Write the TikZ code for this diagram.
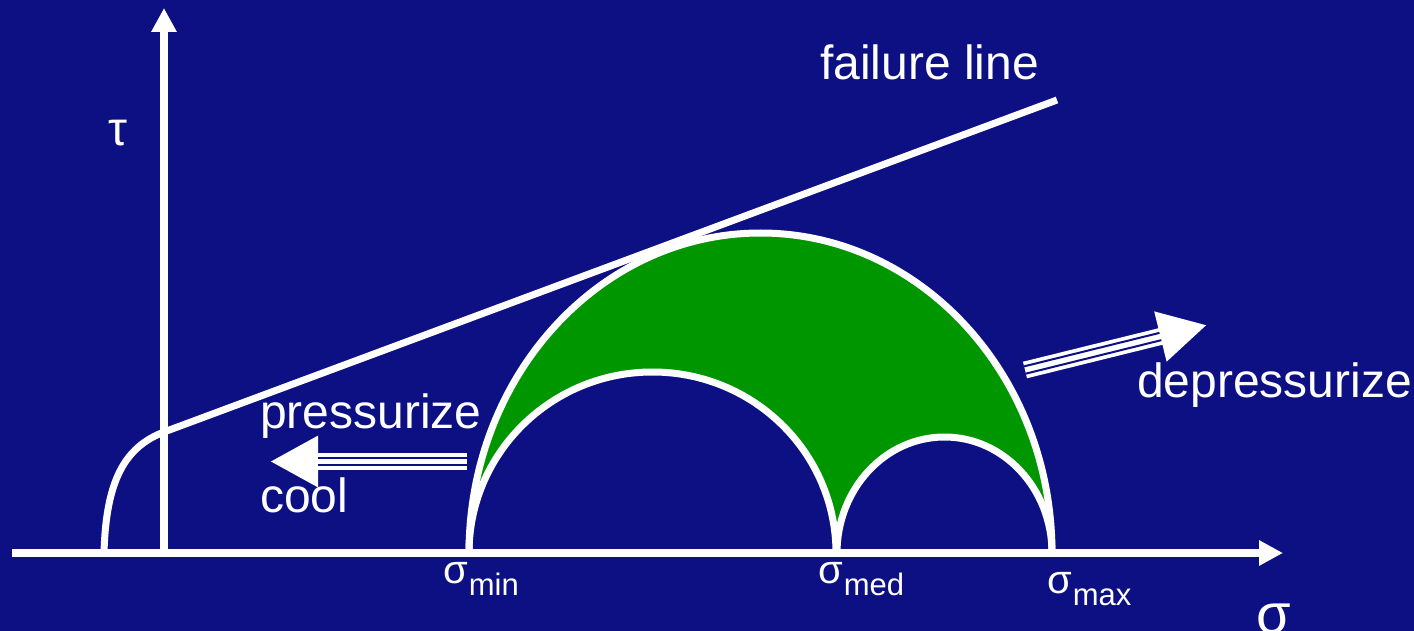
\documentclass[tikz,border=0pt]{standalone}
\usepackage{fontspec}
\setmainfont{Liberation Sans}
\usetikzlibrary{arrows.meta,calc}
\definecolor{bgblue}{RGB}{13,16,130}
\definecolor{fillgreen}{RGB}{0,150,0}
\newcommand{\sgsub}[1]{\kern1pt\raisebox{-12pt}{\fontsize{31}{31}\selectfont #1}}
\begin{document}
\begin{tikzpicture}[x=1pt,y=-1pt,
  lbl/.style={inner sep=0pt, anchor=base west, text=white, font=\fontsize{48}{56}\selectfont},
  siglbl/.style={inner sep=0pt, anchor=base west, text=white, font=\fontsize{40}{48}\selectfont},
  arch/.style={draw=white, line width=7pt},
  axisline/.style={draw=white, line width=7.5pt, -{Triangle[length=24pt,width=24pt]}},
  fat/.style={white, line width=17pt, -{Triangle[length=48pt,width=48pt]}},
  stripe/.style={bgblue, line width=2pt}]

\fill[bgblue] (0,0) rectangle (1414,631);
\useasboundingbox (0,0) rectangle (1414,631);

% green region between the big arch and the two small arches
\fill[fillgreen] (469,553) arc[start angle=180,end angle=0,x radius=291.5pt,y radius=320pt] -- cycle;
\fill[bgblue] (469,553) arc[start angle=180,end angle=0,x radius=183.5pt,y radius=181pt] -- cycle;
\fill[bgblue] (837,553) arc[start angle=180,end angle=0,x radius=107.5pt,y radius=116pt] -- cycle;

% arch outlines
\draw[arch] (469,553) arc[start angle=180,end angle=0,x radius=291.5pt,y radius=320pt];
\draw[arch] (469,553) arc[start angle=180,end angle=0,x radius=183.5pt,y radius=181pt];
\draw[arch] (837,553) arc[start angle=180,end angle=0,x radius=107.5pt,y radius=116pt];

% axes
\coordinate (xs) at (12,553);
\coordinate (xe) at (1283,553);
\coordinate (ys) at (164,553);
\coordinate (ye) at (164,8);
\draw[axisline] (xs) -- (xe);
\draw[axisline] (ys) -- (ye);

% failure envelope
\coordinate (fa) at (104,553);
\coordinate (fb) at (164,432);
\coordinate (fc) at (1057,100);
\draw[white, line width=7pt] (fa) .. controls (106,480) and (125,447) .. (fb) -- (fc);

% pressurize / cool arrow
\coordinate (pS) at (467,461.5);
\coordinate (pT) at (270,461.5);
\draw[fat] (pS) -- (pT);
\coordinate (pB) at ($(pT)!48pt!(pS)$);
\draw[stripe] ($(pS)!3.75pt!90:(pT)$) -- ($(pB)!3.75pt!90:(pT)$);
\draw[stripe] ($(pS)!3.75pt!-90:(pT)$) -- ($(pB)!3.75pt!-90:(pT)$);

% depressurize arrow
\coordinate (dS) at (1025,370);
\coordinate (dT) at (1207,325);
\draw[fat] (dS) -- (dT);
\coordinate (dB) at ($(dT)!48pt!(dS)$);
\draw[stripe] ($(dS)!3.75pt!90:(dT)$) -- ($(dB)!3.75pt!90:(dT)$);
\draw[stripe] ($(dS)!3.75pt!-90:(dT)$) -- ($(dB)!3.75pt!-90:(dT)$);

% labels
\node[lbl] (fl) at (820,80) {failure line};
\node[lbl] (pr) at (260,428) {pressurize};
\node[lbl] (co) at (260,512) {cool};
\node[lbl] (de) at (1137,397) {depressurize};
\node[lbl] (tau) at (108,146) {τ};
\node[siglbl] (smin) at (443,583) {σ\sgsub{min}};
\node[siglbl] (smed) at (818,583) {σ\sgsub{med}};
\node[siglbl] (smax) at (1047,593) {σ\sgsub{max}};
\node[inner sep=0pt, anchor=base west, text=white, font=\fontsize{56}{60}\selectfont] (sig) at (1256,633) {σ};
\end{tikzpicture}
\end{document}
